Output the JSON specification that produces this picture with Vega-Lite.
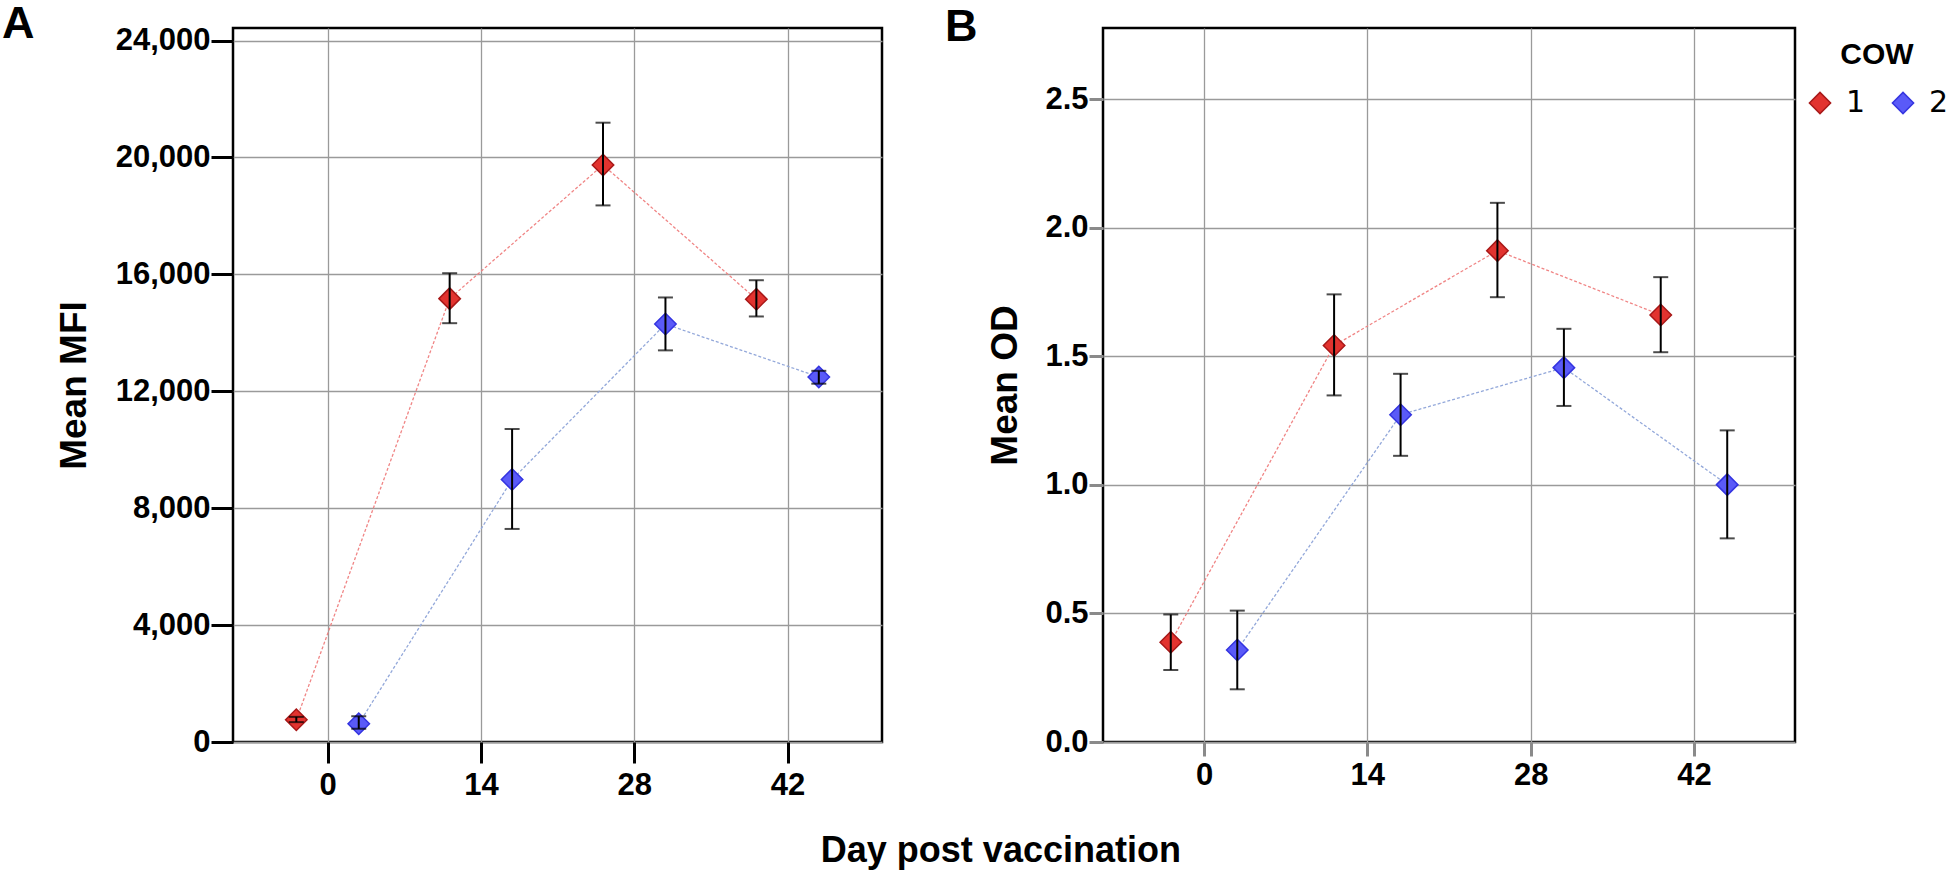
{
  "$schema": "https://vega.github.io/schema/vega-lite/v6.json",
  "background": "white",
  "padding": 0,
  "datasets": {
    "mfi": [
      {"cow": "1", "day": -2.85, "mean": 760, "lo": 680, "hi": 860},
      {"cow": "1", "day": 11.15, "mean": 15170, "lo": 14330, "hi": 16040},
      {"cow": "1", "day": 25.15, "mean": 19745, "lo": 18360, "hi": 21190},
      {"cow": "1", "day": 39.15, "mean": 15150, "lo": 14560, "hi": 15800},
      {"cow": "2", "day": 2.85, "mean": 625, "lo": 450, "hi": 880},
      {"cow": "2", "day": 16.85, "mean": 8980, "lo": 7290, "hi": 10710},
      {"cow": "2", "day": 30.85, "mean": 14300, "lo": 13400, "hi": 15210},
      {"cow": "2", "day": 44.85, "mean": 12490, "lo": 12260, "hi": 12700}
    ],
    "od": [
      {"cow": "1", "day": -2.85, "mean": 0.388, "lo": 0.280, "hi": 0.496},
      {"cow": "1", "day": 11.15, "mean": 1.542, "lo": 1.348, "hi": 1.741},
      {"cow": "1", "day": 25.15, "mean": 1.911, "lo": 1.730, "hi": 2.097},
      {"cow": "1", "day": 39.15, "mean": 1.661, "lo": 1.516, "hi": 1.808},
      {"cow": "2", "day": 2.85, "mean": 0.358, "lo": 0.205, "hi": 0.511},
      {"cow": "2", "day": 16.85, "mean": 1.273, "lo": 1.113, "hi": 1.432},
      {"cow": "2", "day": 30.85, "mean": 1.456, "lo": 1.307, "hi": 1.607},
      {"cow": "2", "day": 44.85, "mean": 1.001, "lo": 0.792, "hi": 1.212}
    ]
  },
  "title": {
    "text": "Day post vaccination",
    "orient": "bottom",
    "anchor": "middle",
    "frame": "bounds",
    "font": "Liberation Sans",
    "fontWeight": "bold",
    "fontSize": 36,
    "color": "black",
    "offset": 33,
    "dx": 20
  },
  "spacing": 59,
  "resolve": {"scale": {"x": "independent", "y": "independent"}},
  "hconcat": [
    {
      "width": 649,
      "height": 714,
      "title": {"text": "A", "anchor": "start", "frame": "group", "dx": -231, "offset": -22, "fontSize": 45, "font": "Liberation Sans", "fontWeight": "bold", "color": "black"},
      "data": {"name": "mfi"},
      "encoding": {
        "x": {
          "field": "day", "type": "quantitative",
          "scale": {"domain": [-8.63, 50.62], "nice": false, "zero": false},
          "axis": {"values": [0, 14, 28, 42], "title": null, "tickSize": 21, "tickWidth": 3, "tickColor": "black", "labelPadding": 7}
        }
      },
      "layer": [
        {
          "transform": [{"filter": "datum.cow == '1'"}],
          "mark": {"type": "line", "color": "#f08585", "strokeWidth": 1.3, "strokeDash": [3, 2]},
          "encoding": {"y": {"field": "mean", "type": "quantitative"}}
        },
        {
          "transform": [{"filter": "datum.cow == '2'"}],
          "mark": {"type": "line", "color": "#93a8da", "strokeWidth": 1.3, "strokeDash": [3, 2]},
          "encoding": {"y": {"field": "mean", "type": "quantitative"}}
        },
        {
          "mark": {"type": "point", "shape": "diamond", "filled": true, "size": 460, "opacity": 1, "strokeWidth": 1.5},
          "encoding": {
            "y": {
              "field": "mean", "type": "quantitative",
              "scale": {"domain": [0, 24430], "nice": false, "zero": false},
              "axis": {"values": [0, 4000, 8000, 12000, 16000, 20000, 24000], "format": ",d", "title": "Mean MFI", "tickSize": 22, "tickWidth": 3, "tickColor": "black", "labelPadding": 1, "titlePadding": 22}
            },
            "fill": {"field": "cow", "type": "nominal", "title": "COW", "scale": {"domain": ["1", "2"], "range": ["#e2332f", "#5a5af8"]}},
            "stroke": {"field": "cow", "type": "nominal", "title": "COW", "scale": {"domain": ["1", "2"], "range": ["#a81818", "#3434e0"]}}
          }
        },
        {
          "mark": {"type": "rule", "color": "black", "strokeWidth": 2},
          "encoding": {"y": {"field": "lo", "type": "quantitative"}, "y2": {"field": "hi"}}
        },
        {
          "mark": {"type": "tick", "orient": "horizontal", "color": "black", "size": 15, "thickness": 2},
          "encoding": {"y": {"field": "lo", "type": "quantitative"}}
        },
        {
          "mark": {"type": "tick", "orient": "horizontal", "color": "black", "size": 15, "thickness": 2},
          "encoding": {"y": {"field": "hi", "type": "quantitative"}}
        }
      ]
    },
    {
      "width": 692,
      "height": 714,
      "title": {"text": "B", "anchor": "start", "frame": "group", "dx": -158, "offset": -22, "fontSize": 45, "font": "Liberation Sans", "fontWeight": "bold", "color": "black"},
      "data": {"name": "od"},
      "encoding": {
        "x": {
          "field": "day", "type": "quantitative",
          "scale": {"domain": [-8.66, 50.66], "nice": false, "zero": false},
          "axis": {"values": [0, 14, 28, 42], "title": null, "tickSize": 14, "tickWidth": 3, "tickColor": "#8a8a8a", "labelPadding": 4}
        }
      },
      "layer": [
        {
          "transform": [{"filter": "datum.cow == '1'"}],
          "mark": {"type": "line", "color": "#f08585", "strokeWidth": 1.3, "strokeDash": [3, 2]},
          "encoding": {"y": {"field": "mean", "type": "quantitative"}}
        },
        {
          "transform": [{"filter": "datum.cow == '2'"}],
          "mark": {"type": "line", "color": "#93a8da", "strokeWidth": 1.3, "strokeDash": [3, 2]},
          "encoding": {"y": {"field": "mean", "type": "quantitative"}}
        },
        {
          "mark": {"type": "point", "shape": "diamond", "filled": true, "size": 460, "opacity": 1, "strokeWidth": 1.5},
          "encoding": {
            "y": {
              "field": "mean", "type": "quantitative",
              "scale": {"domain": [0, 2.777], "nice": false, "zero": false},
              "axis": {"values": [0, 0.5, 1, 1.5, 2, 2.5], "format": ".1f", "title": "Mean OD", "tickSize": 14, "tickWidth": 3, "tickColor": "#8a8a8a", "labelPadding": 1, "titlePadding": 20}
            },
            "fill": {"field": "cow", "type": "nominal", "title": "COW", "scale": {"domain": ["1", "2"], "range": ["#e2332f", "#5a5af8"]}},
            "stroke": {"field": "cow", "type": "nominal", "title": "COW", "scale": {"domain": ["1", "2"], "range": ["#a81818", "#3434e0"]}}
          }
        },
        {
          "mark": {"type": "rule", "color": "black", "strokeWidth": 2},
          "encoding": {"y": {"field": "lo", "type": "quantitative"}, "y2": {"field": "hi"}}
        },
        {
          "mark": {"type": "tick", "orient": "horizontal", "color": "black", "size": 15, "thickness": 2},
          "encoding": {"y": {"field": "lo", "type": "quantitative"}}
        },
        {
          "mark": {"type": "tick", "orient": "horizontal", "color": "black", "size": 15, "thickness": 2},
          "encoding": {"y": {"field": "hi", "type": "quantitative"}}
        }
      ]
    }
  ],
  "config": {
    "view": {"stroke": "black", "strokeWidth": 2.5},
    "axis": {
      "labelFont": "Liberation Sans",
      "labelFontWeight": "bold",
      "labelFontSize": 31,
      "labelColor": "black",
      "titleFont": "Liberation Sans",
      "titleFontWeight": "bold",
      "titleFontSize": 37,
      "titleColor": "black",
      "domain": false,
      "grid": true,
      "gridColor": "#9a9a9a",
      "gridWidth": 1.3
    },
    "legend": {
      "orient": "right",
      "direction": "horizontal",
      "offset": -4,
      "padding": 12,
      "titleFont": "Liberation Sans",
      "titleFontWeight": "bold",
      "titleFontSize": 30,
      "titleColor": "black",
      "titleAnchor": "middle",
      "titlePadding": 18,
      "labelFont": "DejaVu Sans",
      "labelFontSize": 30,
      "labelColor": "black",
      "labelOffset": 11,
      "columnPadding": 22,
      "symbolSize": 450,
      "symbolStrokeWidth": 1.5
    }
  }
}
